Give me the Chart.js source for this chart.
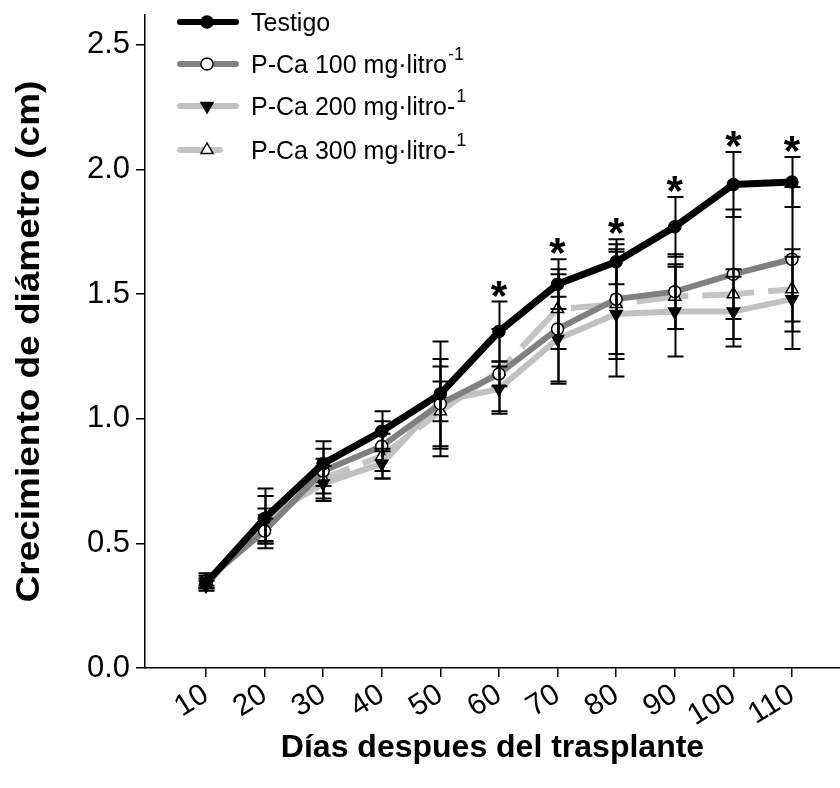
<!DOCTYPE html>
<html><head><meta charset="utf-8">
<script src="https://cdn.jsdelivr.net/npm/chart.js@4.4.1/dist/chart.umd.min.js"></script>
<style>html,body{margin:0;padding:0;background:#fff;overflow:hidden}#wrap{width:840px;height:788px;position:relative}</style>
</head><body><div id="wrap"><canvas id="c" width="840" height="788"></canvas></div>
<script>
const days = [10, 20, 30, 40, 50, 60, 70, 80, 90, 100, 110];
const yTicks = [0, 0.5, 1.0, 1.5, 2.0, 2.5];

const testigo    = [0.34, 0.60, 0.82, 0.95, 1.10, 1.35, 1.54, 1.63, 1.77, 1.94, 1.95];
const testigoErr = [0.02, 0.12, 0.09, 0.08, 0.21, 0.12, 0.10, 0.09, 0.12, 0.13, 0.10];
const pca100     = [0.35, 0.55, 0.79, 0.89, 1.06, 1.18, 1.36, 1.48, 1.51, 1.58, 1.64];
const pca100Err  = [0.02, 0.05, 0.09, 0.10, 0.18, 0.05, 0.22, 0.22, 0.15, 0.26, 0.29];
const pca200     = [0.33, 0.60, 0.74, 0.82, 1.07, 1.12, 1.32, 1.42, 1.43, 1.43, 1.48];
const pca200Err  = [0.02, 0.09, 0.07, 0.06, 0.08, 0.09, 0.17, 0.25, 0.18, 0.14, 0.20];
const pca300     = [0.35, 0.57, 0.76, 0.85, 1.03, 1.19, 1.44, 1.46, 1.49, 1.50, 1.52];
const pca300Err  = [0.03, 0.07, 0.08, 0.09, 0.18, 0.17, 0.16, 0.22, 0.13, 0.10, 0.13];
const significant = [false, false, false, false, false, true, true, true, true, true, true];

const seriesLabels = ['Testigo', 'P-Ca 100 mg·litro', 'P-Ca 200 mg·litro-', 'P-Ca 300 mg·litro-'];
const seriesSup    = ['', '-1', '1', '1'];
const xTitle = 'Días despues del trasplante';
const yTitle = 'Crecimiento de diámetro (cm)';

const FONT = '"Liberation Sans", Arial, sans-serif';
const styles = [
  {color:'#000000', style:'circle', rot:0, fill:'#000000', dash:[], width:7},
  {color:'#808080', style:'circle', rot:0, fill:'#ffffff', dash:[], width:6},
  {color:'#c0c0c0', style:'triangle', rot:180, fill:'#000000', dash:[], width:6},
  {color:'#c4c4c4', style:'triangle', rot:0, fill:'#ffffff', dash:[52, 14], width:6}
];
const seriesVals = [testigo, pca100, pca200, pca300];
const seriesErrs = [testigoErr, pca100Err, pca200Err, pca300Err];

const datasets = seriesVals.map((vals, k) => ({
  label: seriesLabels[k] + seriesSup[k],
  data: days.map((d, i) => ({x: d, y: vals[i]})),
  borderColor: styles[k].color,
  borderWidth: styles[k].width,
  borderDash: styles[k].dash,
  pointStyle: styles[k].style,
  pointRotation: styles[k].rot,
  pointRadius: styles[k].style === 'triangle' ? 7 : 6,
  pointBackgroundColor: styles[k].fill,
  pointBorderColor: '#000',
  pointBorderWidth: 1.5,
  tension: 0,
  fill: false,
  clip: false
}));

function drawMarker(ctx, st, x, y) {
  ctx.save();
  ctx.fillStyle = st.fill; ctx.strokeStyle = '#000'; ctx.lineWidth = 1.5;
  ctx.beginPath();
  if (st.style === 'circle') {
    ctx.arc(x, y, 6, 0, Math.PI * 2);
  } else {
    const r = 7, s = st.rot ? -1 : 1;
    ctx.moveTo(x, y - s * r);
    ctx.lineTo(x - r * 0.866, y + s * r * 0.5);
    ctx.lineTo(x + r * 0.866, y + s * r * 0.5);
    ctx.closePath();
  }
  ctx.fill(); ctx.stroke();
  ctx.restore();
}

const extras = {
  id: 'extras',
  afterDatasetsDraw(chart) {
    const {ctx, scales: {x, y}} = chart;
    ctx.save();
    ctx.strokeStyle = '#000'; ctx.lineWidth = 2;
    seriesVals.forEach((vals, k) => {
      vals.forEach((v, i) => {
        const px = Math.round(x.getPixelForValue(days[i])) + 0.5;
        const t = y.getPixelForValue(v + seriesErrs[k][i]);
        const b = y.getPixelForValue(v - seriesErrs[k][i]);
        ctx.beginPath();
        ctx.moveTo(px, t); ctx.lineTo(px, b);
        ctx.moveTo(px - 8, t); ctx.lineTo(px + 8, t);
        ctx.moveTo(px - 8, b); ctx.lineTo(px + 8, b);
        ctx.stroke();
      });
    });
    ctx.fillStyle = '#000';
    ctx.font = 'bold 42px ' + FONT;
    ctx.textAlign = 'center'; ctx.textBaseline = 'alphabetic';
    significant.forEach((sig, i) => {
      if (!sig) return;
      const px = x.getPixelForValue(days[i]);
      const cap = y.getPixelForValue(testigo[i] + testigoErr[i]);
      ctx.fillText('*', px, cap + 8);
    });
    ctx.restore();
  },
  afterDraw(chart) {
    const ctx = chart.ctx;
    const area = chart.chartArea;
    ctx.save();
    ctx.translate(30, (area.top + area.bottom) / 2);
    ctx.rotate(-Math.PI / 2);
    ctx.scale(1.12, 1);
    ctx.fillStyle = '#000';
    ctx.font = 'bold 33px ' + FONT;
    ctx.textAlign = 'center'; ctx.textBaseline = 'middle';
    ctx.fillText(yTitle, 0, 0);
    ctx.restore();
    const rows = [22, 64, 106, 150];
    ctx.save();
    seriesLabels.forEach((lab, k) => {
      const st = styles[k], yy = rows[k];
      ctx.strokeStyle = st.color; ctx.lineWidth = 6; ctx.lineCap = 'round';
      ctx.beginPath();
      if (k === 3) { ctx.moveTo(180, yy); ctx.lineTo(220, yy); }
      else { ctx.moveTo(180, yy); ctx.lineTo(236, yy); }
      ctx.stroke();
      drawMarker(ctx, st, 207, yy);
      ctx.fillStyle = '#000';
      ctx.font = '25px ' + FONT;
      ctx.textAlign = 'left'; ctx.textBaseline = 'middle';
      ctx.fillText(lab, 251, yy + 2);
      if (seriesSup[k]) {
        const w = ctx.measureText(lab).width;
        ctx.font = '18px ' + FONT;
        ctx.fillText(seriesSup[k], 251 + w + 1, yy - 9);
      }
    });
    ctx.restore();
  }
};

new Chart(document.getElementById('c'), {
  type: 'line',
  data: {datasets},
  options: {
    responsive: false,
    animation: false,
    devicePixelRatio: 1,
    layout: {autoPadding: false, padding: {top: 15, right: 0, left: 0, bottom: 0}},
    plugins: {legend: {display: false}, tooltip: {enabled: false}},
    scales: {
      x: {
        type: 'linear', min: -0.4, max: 118.2,
        afterBuildTicks: s => { s.ticks = days.map(v => ({value: v})); },
        afterFit: s => { s.height = 120; s.paddingLeft = 0; s.paddingRight = 0; },
        grid: {drawOnChartArea: false, drawTicks: true, tickLength: 9, color: '#000', lineWidth: 1.5},
        border: {color: '#000', width: 1.5},
        ticks: {color: '#000', font: {family: FONT, size: 30}, maxRotation: 32, minRotation: 32, autoSkip: false, padding: 0},
        title: {display: true, text: xTitle, color: '#000', font: {family: FONT, size: 32, weight: 'bold'}, padding: {top: 0, bottom: 21}}
      },
      y: {
        type: 'linear', min: 0, max: 2.62,
        afterBuildTicks: s => { s.ticks = yTicks.map(v => ({value: v})); },
        afterFit: s => { s.width = 145; s.paddingTop = 0; s.paddingBottom = 0; },
        grid: {drawOnChartArea: false, drawTicks: true, tickLength: 9, color: '#000', lineWidth: 1.5},
        border: {color: '#000', width: 1.5},
        ticks: {color: '#000', font: {family: FONT, size: 31}, padding: 6, callback: v => Number(v).toFixed(1)},
        title: {display: false}
      }
    }
  },
  plugins: [extras]
});
</script>
</body></html>
